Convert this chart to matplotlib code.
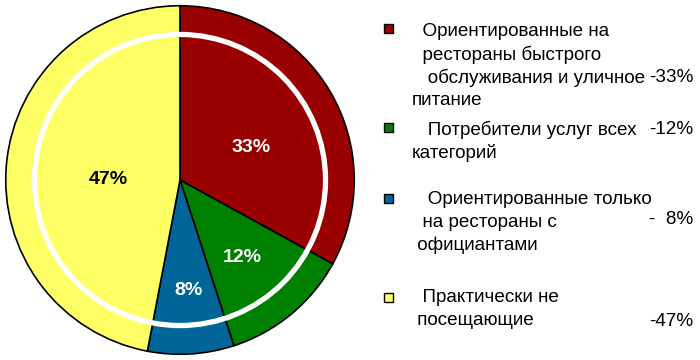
import numpy as np
import matplotlib.pyplot as plt
from matplotlib.patches import Circle, Rectangle

plt.rcParams['font.family'] = ['Liberation Sans', 'DejaVu Sans']

# data
labels = [
    "  Ориентированные на\n  рестораны быстрого\n   обслуживания и уличное\nпитание",
    "   Потребители услуг всех\nкатегорий",
    "   Ориентированные только\n  на рестораны с\n официантами",
    "  Практически не\n посещающие",
]
shares = [33, 12, 8, 47]
value_texts = ["-33%", "-12%", "-  8%", "-47%"]
colors = ["#990000", "#008000", "#006699", "#FFFF66"]
pct_colors = ["white", "white", "white", "black"]

px = 1 / 100
fig = plt.figure(figsize=(700 * px, 360 * px), dpi=100)

# pie, centre (180,180) px, radius 176 px
ax = fig.add_axes([4 / 700, 4 / 360, 352 / 700, 352 / 360])
wedges, _ = ax.pie(shares, colors=colors, startangle=90, counterclock=False,
                   radius=1, wedgeprops=dict(edgecolor='black', linewidth=1.2))
ax.set_xlim(-1.01, 1.01)
ax.set_ylim(-1.01, 1.01)
ax.set_aspect('equal')
ax.axis('off')

ax.add_patch(Circle((0, 0), 147 / 176, fill=False, edgecolor='white', lw=3.8, zorder=5))

# percent labels placed inside their wedges (pixel offsets from centre / radius)
label_pos = [(72, 33), (63, -78), (9, -112), (-72, 0)]
for (dx, dy), s, c in zip(label_pos, shares, pct_colors):
    ax.text(dx / 176, dy / 176, f"{s}%", ha='center', va='center',
            color=c, fontsize=14, fontweight='bold', zorder=6)

# legend, drawn in pixel coords
lg = fig.add_axes([0, 0, 1, 1])
lg.set_xlim(0, 700)
lg.set_ylim(360, 0)
lg.axis('off')

marker_y = [28, 127, 198, 297]
text_top = [32, 130, 200, 298]
value_y = [78, 130, 220, 322]
line_h = 22.8
for lab, c, my, ty, vt, vy in zip(labels, colors, marker_y, text_top, value_texts, value_y):
    lg.add_patch(Rectangle((384, my - 4.5), 9, 9, facecolor=c, edgecolor='black', lw=1))
    for i, line in enumerate(lab.split("\n")):
        lg.text(412, ty + i * line_h, line, ha='left', va='center', fontsize=13.6, color='black')
    lg.text(693, vy, vt, ha='right', va='center', fontsize=13.6, color='black')

fig.savefig('out.png', dpi=100)
